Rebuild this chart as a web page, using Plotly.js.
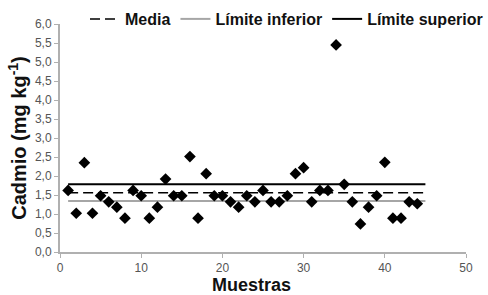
<!DOCTYPE html>
<html><head><meta charset="utf-8">
<script src="https://cdn.plot.ly/plotly-3.0.1.min.js"></script>
<style>html,body{margin:0;padding:0;background:#fff}#c{width:488px;height:295px}</style>
</head><body><div id="c"></div>
<script>
const muestras = [1,2,3,4,5,6,7,8,9,10,11,12,13,14,15,16,17,18,19,20,21,22,23,24,25,26,27,28,29,30,31,32,33,34,35,36,37,38,39,40,41,42,43,44];
const cadmio = [1.62,1.02,2.35,1.02,1.48,1.32,1.18,0.89,1.62,1.48,0.89,1.18,1.92,1.48,1.48,2.51,0.89,2.06,1.48,1.48,1.32,1.18,1.48,1.32,1.62,1.32,1.32,1.48,2.06,2.22,1.32,1.62,1.62,5.45,1.78,1.32,0.74,1.18,1.48,2.36,0.89,0.89,1.32,1.27];
const rangoLineas = [1,45];
const media = 1.56;
const limInf = 1.34;
const limSup = 1.78;

const traces = [
  {x: rangoLineas, y: [media, media], mode:'lines', name:'Media', line:{color:'#000', width:1.5, dash:'10px,5px'}},
  {x: rangoLineas, y: [limInf, limInf], mode:'lines', name:'Límite inferior', line:{color:'#a6a6a6', width:2}},
  {x: rangoLineas, y: [limSup, limSup], mode:'lines', name:'Límite superior', line:{color:'#000', width:2}},
  {x: muestras, y: cadmio, mode:'markers', showlegend:false, marker:{symbol:'diamond', size:9, color:'#000'}}
];
const layout = {
  width:488, height:295,
  margin:{l:60, r:22, t:24, b:43, autoexpand:false},
  separators:', ',
  font:{family:'Liberation Sans, Arial, sans-serif', color:'#555', size:12},
  showlegend:true,
  legend:{orientation:'h', xref:'container', yref:'container', x:1, xanchor:'right', y:1-19/295, yanchor:'middle',
    font:{size:16, color:'#111', weight:'bold'}, itemwidth:30, tracegroupgap:0, bgcolor:'rgba(0,0,0,0)', borderwidth:0},
  xaxis:{range:[0,50], dtick:10, showgrid:false, zeroline:false, showline:true, linecolor:'#b0b0b0', linewidth:2, ticks:'outside', ticklen:4, tickcolor:'#b0b0b0', tickwidth:1,
    tickfont:{size:12, color:'#555'}},
  yaxis:{range:[0,6], dtick:0.5, tickformat:'.1f', showgrid:false, zeroline:false, showline:true, linecolor:'#b0b0b0', linewidth:2, ticks:'outside', ticklen:4, tickcolor:'#b0b0b0', tickwidth:1,
    tickfont:{size:12, color:'#555'},
    title:{text:'Cadmio (mg kg<sup>-1</sup>)', font:{size:20, color:'#111', weight:'bold'}, standoff:3}},
  annotations:[{text:'Muestras', xref:'paper', yref:'paper', x:0.4717, y:-0.1447, xanchor:'center', yanchor:'middle', showarrow:false, borderpad:0,
    font:{size:18, color:'#111', weight:'bold', family:'Liberation Sans, Arial, sans-serif'}}],
  plot_bgcolor:'#fff', paper_bgcolor:'#fff'
};
Plotly.newPlot('c', traces, layout, {staticPlot:true, displayModeBar:false});
</script></body></html>
